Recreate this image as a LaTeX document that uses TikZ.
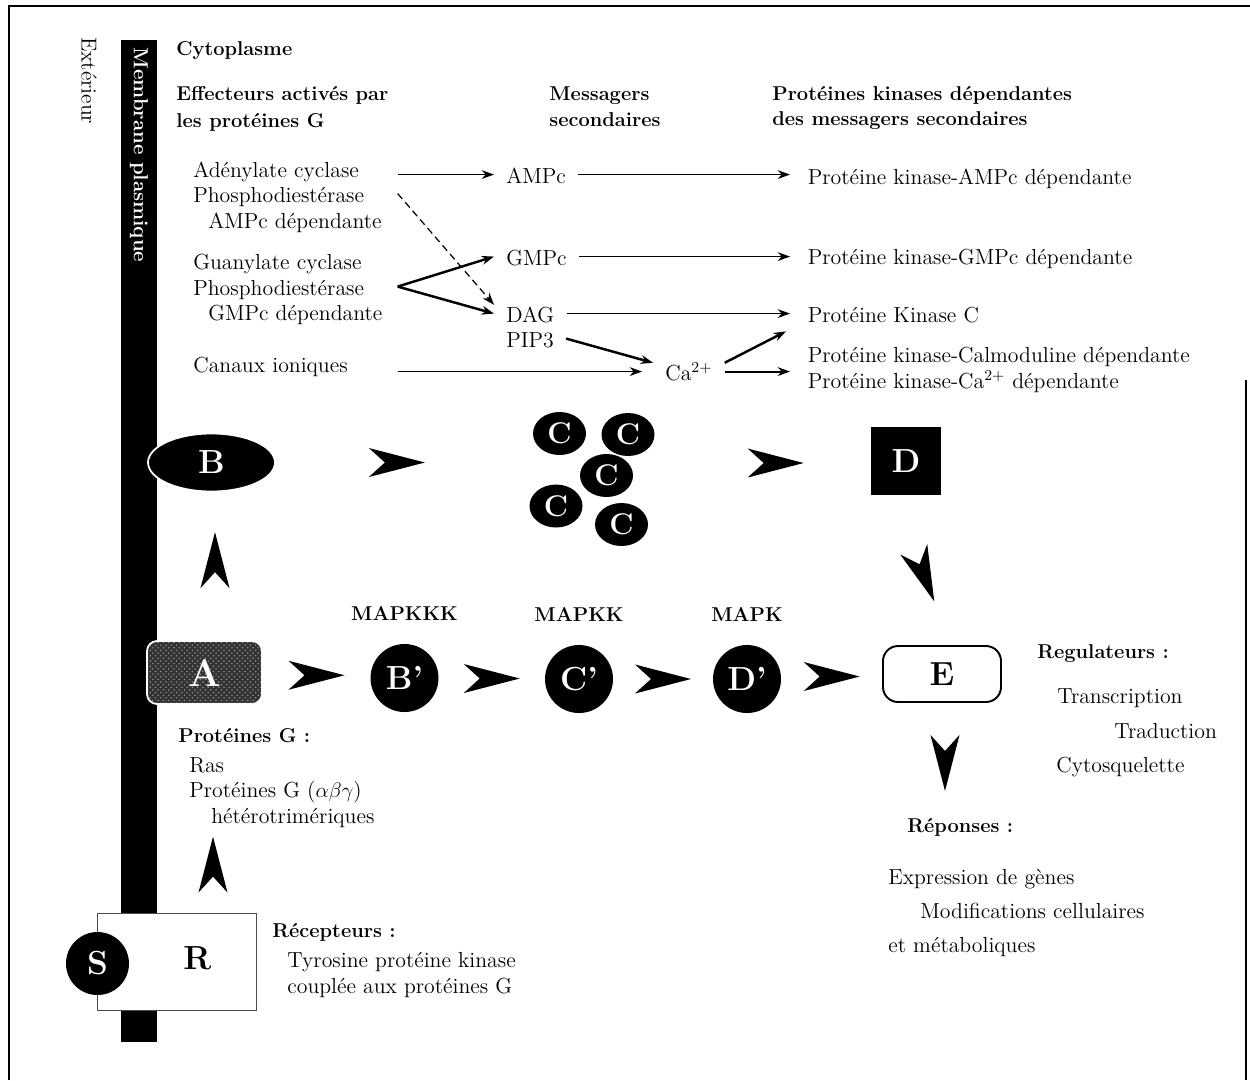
\documentclass[tikz,border=0pt]{standalone}
\usetikzlibrary{positioning,calc,shapes.geometric,arrows.meta,patterns}
\begin{document}
\begin{tikzpicture}[x=0.02cm, y=-0.02cm,
    txt/.style={font=\fontsize{12.4}{15}\selectfont, inner sep=0pt, text height=9.6pt, text depth=0pt, anchor=base west},
    eff/.style={txt, text width=4.08cm, align=left},
    msg/.style={txt, inner xsep=0.24cm},
    kin/.style={txt, inner xsep=0.35cm},
    titre/.style={font=\fontsize{11.4}{13}\selectfont\bfseries, inner sep=0pt, anchor=base west},
    lettre/.style={font=\fontsize{19}{19}\selectfont\bfseries, text=white, inner sep=0pt},
    disque/.style={ellipse, fill=black, lettre},
    rond/.style={circle, fill=black, lettre, minimum size=1.36cm},
    fl/.style={-{Stealth[length=7pt,width=5pt]}, line width=0.7pt},
    flg/.style={fl, line width=1.4pt},
    fleche/.pic={\fill (28,0) -- (-28,14.5) -- (-12,0) -- (-28,-14.5) -- cycle;}
  ]
\useasboundingbox (0,0) rectangle (1250,1080);

% cadre
\draw[line width=0.6pt] (9,1080) -- (9,6) -- (1250,6);
\draw[line width=0.6pt] (1246,380) -- (1246,1080);

% membrane
\node[fill=black, inner sep=0pt, minimum width=0.72cm, minimum height=20.04cm] (membrane) at (139,541) {};
\node[rotate=-90, anchor=west, inner sep=0pt, text=white, font=\fontsize{11.6}{13}\selectfont\bfseries] (memtxt) at (139,47) {Membrane plasmique};
\node[rotate=-90, anchor=west, inner sep=0pt, font=\fontsize{12.3}{15}\selectfont] (ext) at (89,37) {Extérieur};

% titres
\node[titre] (cyto) at (176,55) {Cytoplasme};
\node[titre] (eff1) at (176,100) {Effecteurs activés par};
\node[titre] (eff2) at (176,127) {les protéines G};
\node[titre] (mes1) at (549,100) {Messagers};
\node[titre] (mes2) at (549,126) {secondaires};
\node[titre] (pk1) at (772,100) {Protéines kinases dépendantes};
\node[titre] (pk2) at (772,125) {des messagers secondaires};

% effecteurs
\node[eff] (ac) at (193,177) {Adénylate cyclase};
\node[eff] (pdea) at (193,202) {Phosphodiestérase};
\node[txt] (ampcdep) at (208,228) {AMPc dépendante};
\node[eff] (gc) at (193,269) {Guanylate cyclase};
\node[eff] (pdeg) at (193,295) {Phosphodiestérase};
\node[txt] (gmpcdep) at (208,320) {GMPc dépendante};
\node[eff] (canaux) at (193,372) {Canaux ioniques};

% messagers
\node[msg] (ampc) at (494,183) {AMPc};
\node[msg] (gmpc) at (494,265) {GMPc};
\node[msg] (dag) at (494,322) {DAG};
\node[msg] (pip) at (494,347) {PIP3};
\node[msg] (ca) at (653,380) {Ca\textsuperscript{2+}};

% kinases
\node[kin] (pka) at (790,184) {Protéine kinase-AMPc dépendante};
\node[kin] (pkg) at (790,264) {Protéine kinase-GMPc dépendante};
\node[kin] (pkc) at (790,322) {Protéine Kinase C};
\node[kin] (pkcam) at (790,362) {Protéine kinase-Calmoduline dépendante};
\node[kin] (pkca) at (790,388) {Protéine kinase-Ca\textsuperscript{2+} dépendante};

\draw[fl] (ac.east |- ampc) -- (ampc);
\draw[fl] (ampc) -- (ampc -| pka.west);
\draw[fl] (gmpc) -- (gmpc -| pkg.west);
\draw[fl] (dag) -- (dag -| pkc.west);
\draw[fl, dash pattern=on 4pt off 2.5pt] (pdea.east) -- (dag.north west);
\draw[flg] (pdeg.east) -- (gmpc.west);
\draw[flg] (pdeg.east) -- (dag.west);
\draw[flg] (pip.east) -- (ca.north west);
\draw[fl, line width=1pt, shorten >=0.22cm] (canaux.east |- ca) -- (ca);
\draw[flg] (ca.north east) -- ($(pkc.south west)+(-4,9)$);
\draw[fl, line width=1.1pt] (ca) -- (ca -| pkcam.west);

% voie des proteines G
\node[disque, draw=white, line width=1pt, minimum width=2.54cm, minimum height=1.16cm] (B) at (211.5,462.5) {B};
\foreach \nom/\px/\py in {c1/559.5/433.5, c2/628/434.5, c3/606.5/475.5, c4/556/506, c5/621.5/524.5}
  \node[disque, minimum width=1.06cm, minimum height=0.86cm, font=\fontsize{17}{17}\selectfont\bfseries] (\nom) at (\px,\py) {C};
\node[fill=black, lettre, minimum width=1.4cm, minimum height=1.36cm] (D) at (906,461) {D};

% voie des MAP kinases
\node[rounded corners=0.2cm, draw=white, line width=1pt, preaction={fill=black!80}, pattern=crosshatch dots, pattern color=black!45, lettre, font=\fontsize{22}{22}\selectfont\bfseries, minimum width=2.3cm, minimum height=1.26cm] (A) at (204.5,672.5) {A};
\node[rond] (Bp) at (404.5,678) {B\textquoteright};
\node[rond] (Cp) at (579,679) {C\textquoteright};
\node[rond] (Dp) at (747,679) {D\textquoteright};
\node[draw, line width=1.1pt, rounded corners=0.3cm, minimum width=2.36cm, minimum height=1.12cm, font=\fontsize{19}{19}\selectfont\bfseries] (E) at (942,674) {E};
\node[titre, above=0.46cm of Bp] (mapkkk) {MAPKKK};
\node[titre, above=0.46cm of Cp] (mapkk) {MAPKK};
\node[titre, above=0.46cm of Dp] (mapk) {MAPK};

\node[titre] (protg) at (178,742) {Protéines G :};
\node[txt] (ras) at (189,772) {Ras};
\node[txt] (protgabc) at (189,797) {Protéines G ($\alpha\beta\gamma$)};
\node[txt] (hetero) at (211,823) {hétérotrimériques};

% recepteur
\node[draw=black!70, fill=white, line width=0.5pt, minimum width=3.18cm, minimum height=1.94cm] (R) at (176.5,961.5) {};
\node[font=\fontsize{19}{19}\selectfont\bfseries, inner sep=0pt] (Rlet) at ($(R.center)+(21,-3)$) {R};
\node[circle, fill=black, lettre, minimum size=1.26cm] (S) at (97.5,963.5) {S};
\node[titre] (recep) at (272,937) {Récepteurs :};
\node[txt] (tyro) at (287,967) {Tyrosine protéine kinase};
\node[txt] (couple) at (287,993) {couplée aux protéines G};

% regulateurs et reponses
\node[titre] (regul) at (1037,658) {Regulateurs :};
\node[txt] (transc) at (1057,703) {Transcription};
\node[txt] (tradu) at (1114,738) {Traduction};
\node[txt] (cytosq) at (1056,772) {Cytosquelette};
\node[titre] (repon) at (907,832) {Réponses :};
\node[txt] (expr) at (888,884) {Expression de gènes};
\node[txt] (modif) at (920,918) {Modifications cellulaires};
\node[txt] (metab) at (888,952) {et métaboliques};

% grosses fleches
\pic at ($(B.east)+(121,0)$) {fleche};
\pic at ($(D.west)+(-95,2)$) {fleche};
\pic at ($(A.east)!0.5!(Bp.west)$) {fleche};
\pic at ($(Bp.east)!0.5!(Cp.west)$) {fleche};
\pic at ($(Cp.east)!0.5!(Dp.west)$) {fleche};
\pic at ($(Dp.east)!0.5!(E.west)$) {fleche};
\pic[rotate=90] at ($(A.north)+(10.5,-80)$) {fleche};
\pic[rotate=90] at ($(R.north)+(36.5,-48)$) {fleche};
\pic[rotate=-68.5] at ($(D.south)+(18,80)$) {fleche};
\pic[rotate=-90] at ($(E.south)+(3,60)$) {fleche};
\end{tikzpicture}
\end{document}
